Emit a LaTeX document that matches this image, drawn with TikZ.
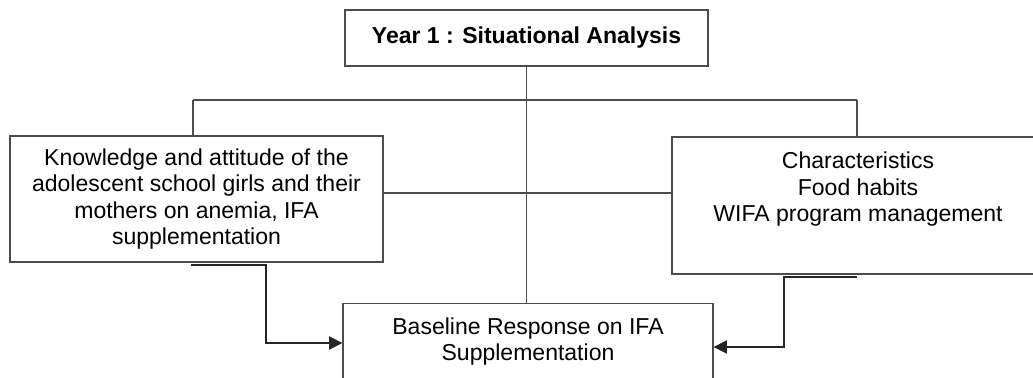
\documentclass[tikz,border=0pt]{standalone}
\usepackage{fontspec}
\setmainfont{Liberation Sans}
\usetikzlibrary{arrows.meta,positioning}
\begin{document}
\begin{tikzpicture}[x=0.02cm, y=-0.02cm,
  every node/.style={font=\fontsize{13.1}{15.1}\selectfont, align=center, inner sep=0pt},
  box/.style={draw=black!70, line width=0.8pt, fill=white},
  link/.style={draw=black!70, line width=0.8pt},
  arr/.style={draw=black!85, line width=0.9pt, -{Triangle[length=7.5pt,width=7.5pt]}}]
  \clip (0,0) rectangle (1033,378);
  % one pixel of the reference is one unit; boxes first, then the lines that join them
  \node[box, minimum width=7.26cm, minimum height=1.12cm] (title) at (526.5,38) {\textbf{Year 1 : Situational Analysis}};
  \node[box, minimum width=7.46cm, minimum height=2.52cm] (know) at (196.5,199) {Knowledge and attitude of the\\ adolescent school girls and their\\ mothers on anemia, IFA\\ supplementation};
  \node[box, minimum width=7.44cm, minimum height=2.74cm] (charac) at (858,205.5) {};
  \node[below=0.31cm of charac.north, anchor=north] (charactxt) {Characteristics\\ Food habits\\ WIFA program management};
  \node[box, minimum width=7.4cm, minimum height=3cm, anchor=north] (resp) at (528,303) {};
  \node[below=0.28cm of resp.north, anchor=north] (resptxt) {Baseline Response on IFA\\ Supplementation};
  \coordinate (busL) at (193,100); \coordinate (busR) at (857,100);
  \coordinate (midL) at (383,193);
  \coordinate (armL) at (191,265); \coordinate (armR) at (857,277);
  \draw[link] (busL) -- (busR);
  \draw[link] (busL) -- (busL |- know.north);
  \draw[link] (busR) -- (busR |- charac.north);
  \draw[link] (title.south) -- (title.south |- resp.north);
  \draw[link] (midL) -- (midL -| charac.west);
  \draw[arr] (armL) -- ++(75,0) |- (resp.west |- 0,343);
  \draw[arr] (armR) -- ++(-73,0) |- (resp.east |- 0,347);
\end{tikzpicture}
\end{document}
